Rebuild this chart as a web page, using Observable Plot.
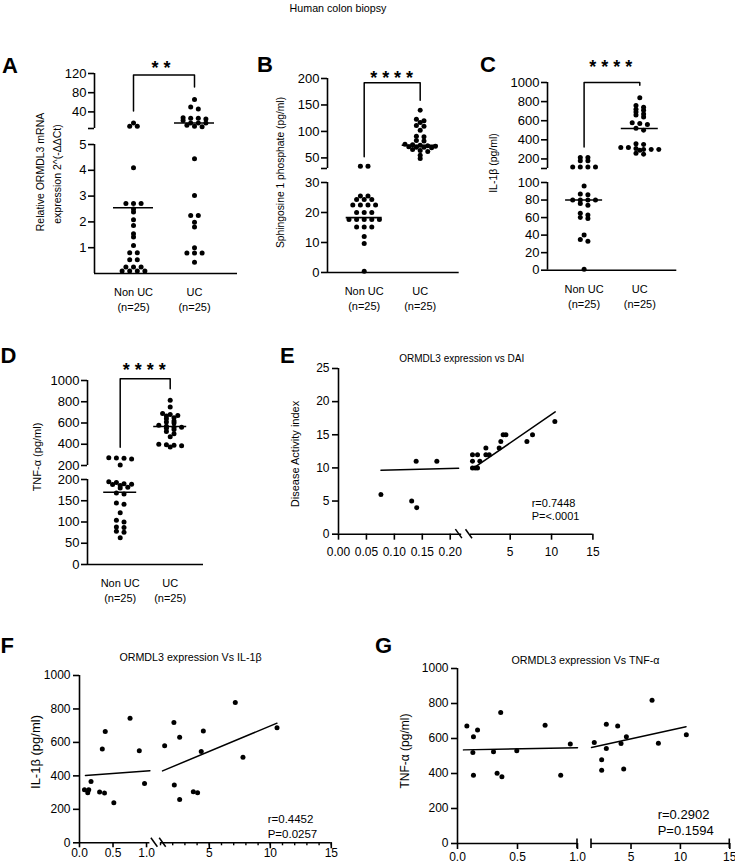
<!DOCTYPE html>
<html><head><meta charset="utf-8">
<script src="https://cdn.jsdelivr.net/npm/d3@7"></script>
<script src="https://cdn.jsdelivr.net/npm/@observablehq/plot@0.6"></script>
<style>
html,body{margin:0;padding:0;background:#fff;}
#fig{position:relative;width:735px;height:866px;overflow:hidden;background:#fff;font-family:"Liberation Sans",Arial,Helvetica,sans-serif;}
#fig svg{position:absolute;overflow:visible;}
</style></head><body><div id="fig"></div>
<script>
const FONT = '"Liberation Sans", Arial, Helvetica, sans-serif';

// ---------------- DATA ----------------
const groups = ["Non UC", "UC"];
const groupTickLabels = ["Non UC\n(n=25)", "UC\n(n=25)"];

// A: Relative ORMDL3 mRNA expression
const ormdlNonUC = [17, 10, 10, 4.1, 2.71, 2.71, 2.71, 2.5, 2.38, 2.08, 1.86, 1.54, 1.41, 1.09, 0.8, 0.8, 0.53, 0.53, 0.25, 0.25, 0.25, 0.1, 0.1, 0.1, 0.1];
const ormdlUC = [66, 50, 46, 28, 27, 27, 25, 22, 17, 17, 17, 12, 10, 9, 4.45, 3.02, 2.25, 2.25, 1.99, 1.8, 1.0, 0.79, 0.79, 0.79, 0.44];
const ormdlMeans = [2.55, 17];
const ormdlUpperDomain = [5.4, 120], ormdlLowerDomain = [0, 5];
const ormdlUpperTicks = [5.4, 40, 80, 120], ormdlLowerTicks = [1, 2, 3, 4, 5];
const ormdlBracket = [42, 117, 92];

// B: Sphingosine 1 phosphate (pg/ml)
const s1pNonUC = [34, 34, 25.5, 25.5, 24.3, 24.3, 24.3, 22.5, 22.5, 22.5, 22.5, 20, 20, 20, 17.7, 17.7, 17.7, 17.7, 17.7, 15.2, 15.2, 15.2, 12, 9.7, 0.4];
const s1pUC = [140, 123, 120, 117, 111, 110, 102, 91, 90, 83, 82, 76, 75, 74, 73, 72, 71, 70, 70, 69, 66, 64, 62, 55, 49];
const s1pMeans = [18.3, 74];
const s1pUpperDomain = [30, 200], s1pLowerDomain = [0, 30];
const s1pUpperTicks = [30, 50, 100, 150, 200], s1pLowerTicks = [0, 10, 20, 30];
const s1pBracket = [52, 192, 159];

// C: IL-1β (pg/ml)
const il1bNonUC = [215, 215, 180, 180, 116, 116, 116, 116, 96, 87, 86, 80, 80, 80, 80, 76, 74, 65, 63, 60, 59, 40, 35, 33, 1];
const il1bUC = [840, 760, 740, 720, 710, 690, 670, 660, 640, 580, 570, 560, 520, 500, 360, 350, 320, 320, 310, 300, 300, 300, 290, 260, 250];
const il1bMeans = [80, 518];
const il1bUpperDomain = [100, 1000], il1bLowerDomain = [0, 100];
const il1bUpperTicks = [100, 200, 400, 600, 800, 1000], il1bLowerTicks = [0, 20, 40, 60, 80, 100];
const il1bBracket = [326, 1000, 972];

// D: TNF-α (pg/ml)
const tnfNonUC = [272, 270, 268, 262, 204, 195, 193, 190, 189, 188, 186, 182, 180, 168, 166, 145, 142, 122, 104, 100, 88, 87, 78, 76, 63];
const tnfUC = [815, 750, 690, 680, 670, 665, 650, 640, 620, 610, 600, 580, 570, 560, 560, 550, 540, 520, 500, 470, 400, 395, 390, 385, 375];
const tnfMeans = [170, 567];
const tnfUpperDomain = [200, 1000], tnfLowerDomain = [0, 200];
const tnfUpperTicks = [200, 400, 600, 800, 1000], tnfLowerTicks = [0, 50, 100, 150, 200];
const tnfBracket = [372, 1016, 922];

// E: ORMDL3 expression vs DAI
const daiLowX = [0.076, 0.131, 0.139, 0.140, 0.176];
const daiLowY = [6, 5, 11, 4, 11];
const daiHighX = [0.44, 0.44, 0.44, 0.77, 1.05, 1.05, 1.33, 2.06, 2.06, 2.46, 3.67, 3.87, 4.15, 4.48, 7.02, 7.70, 10.40];
const daiHighY = [12, 11, 10, 10, 10, 12, 11, 13, 12, 12, 13, 14, 15, 15, 14, 15, 17];
const daiLowFit = [[0.076, 9.66], [0.215, 9.96]];
const daiHighFit = [[0.6, 10.0], [10.44, 18.46]];
const daiLowDomain = [0, 0.2205], daiHighDomain = [0.2, 15], daiYDomain = [0, 25];
const daiLowTicks = [0, 0.05, 0.10, 0.15, 0.20], daiHighTicks = [5, 10, 15], daiYTicks = [0, 5, 10, 15, 20, 25];

// F: ORMDL3 expression vs IL-1β
const fLowX = [0.074, 0.123, 0.138, 0.172, 0.300, 0.340, 0.374, 0.384, 0.512, 0.754, 0.892, 0.970];
const fLowY = [317, 299, 317, 367, 303, 560, 297, 665, 239, 745, 550, 355];
const fHighX = [1.34, 2.10, 2.13, 2.57, 2.57, 3.69, 4.04, 4.34, 4.51, 7.13, 7.76, 10.55];
const fHighY = [580, 719, 345, 631, 259, 305, 299, 546, 669, 839, 512, 687];
const fLowFit = [[0.089, 402], [1.05, 430]];
const fHighFit = [[1.17, 430], [10.55, 715]];
const fLowDomain = [0, 1.05], fHighDomain = [1, 15], fYDomain = [0, 1000];
const fLowTicks = [0, 0.5, 1.0], fHighTicks = [5, 10, 15], fHighMinorTicks = d3.range(1, 16), fYTicks = [0, 200, 400, 600, 800, 1000];

// G: ORMDL3 expression vs TNF-α
const gLowX = [0.078, 0.133, 0.128, 0.133, 0.167, 0.30, 0.33, 0.36, 0.37, 0.494, 0.73, 0.86, 0.94];
const gLowY = [672, 610, 520, 390, 648, 524, 402, 749, 381, 530, 676, 390, 568];
const gHighX = [1.28, 2.03, 2.03, 2.5, 2.5, 3.65, 3.99, 4.26, 4.53, 7.13, 7.77, 10.6];
const gHighY = [577, 478, 419, 682, 543, 672, 572, 425, 610, 819, 573, 621];
const gLowFit = [[0.05, 535], [1.0, 547]];
const gHighFit = [[1.0, 549], [10.57, 667]];
const gLowDomain = [0, 1], gHighDomain = [1, 15], gYDomain = [0, 1000];
const gLowTicks = [0, 0.5, 1.0], gHighTicks = [5, 10, 15], gYTicks = [0, 200, 400, 600, 800, 1000];

// ---------------- HELPERS ----------------
const fig = document.getElementById("fig");
const K = "#000";
const plain = d => String(d);

function makePlot({frame, x, y, marks, pad = [50, 30, 50, 70]}) {
  const [x0, x1, y0, y1] = frame;
  const [mt, mr, mb, ml] = pad;
  const svg = Plot.plot({
    width: x1 - x0 + ml + mr,
    height: y1 - y0 + mt + mb,
    marginTop: mt, marginRight: mr, marginBottom: mb, marginLeft: ml,
    x: {...x, axis: null},
    y: {...y, axis: null},
    style: {background: "transparent", overflow: "visible", fontFamily: FONT, color: K},
    marks
  });
  svg.style.position = "absolute";
  svg.style.left = (x0 - ml) + "px";
  svg.style.top = (y0 - mt) + "px";
  fig.appendChild(svg);
  return svg;
}

// Prism-like scatter: points whose pixel rows are close are spread sideways
function prism(py, tol, gap) {
  const order = d3.range(py.length).sort((a, b) => py[a] - py[b]);
  const off = new Array(py.length).fill(0);
  let row = [], start = null;
  const flush = () => row.forEach((i, k) => off[i] = (k - (row.length - 1) / 2) * gap);
  for (const i of order) {
    if (row.length && py[i] - start <= tol) row.push(i);
    else { flush(); row = [i]; start = py[i]; }
  }
  flush();
  return off;
}

function catPanel(cfg) {
  const {x0, x1, c0, c1, segs, values, means, bracket, stars, starDy, starX, meanHalf} = cfg;
  const unit = c1 - c0;
  const xDomain = [(x0 - c0) / unit, (x1 - c0) / unit];
  const pix = segs.map(s => d3.scaleLinear(s.domain, [s.y1, s.y0]));
  const segOf = v => segs.findIndex(s => v >= s.domain[0] && v <= s.domain[1]);
  const pts = [];
  values.forEach((vals, g) => {
    const py = vals.map(v => pix[segOf(v)](v));
    const off = prism(py, 2.6, 7.6);
    vals.forEach((v, i) => pts.push({g, v, x: g + off[i] / unit, s: segOf(v)}));
  });
  const meanRows = means.map((m, g) => ({g, v: m, s: segOf(m)}));
  segs.forEach((s, k) => {
    const marks = [
      Plot.ruleX([xDomain[0]], {stroke: K, strokeWidth: 1.6}),
      Plot.axisY({ticks: s.ticks, tickFormat: s.fmt, tickSize: 6, tickPadding: 2, fontSize: 13, strokeWidth: 1.6, label: null, anchor: "left"}),
      Plot.dot(pts.filter(d => d.s === k), {x: "x", y: "v", r: 2.5, fill: K, stroke: "none"}),
      Plot.ruleY(meanRows.filter(d => d.s === k), {y: "v", x1: d => d.g - meanHalf / unit, x2: d => d.g + meanHalf / unit, stroke: K, strokeWidth: 1.6})
    ];
    if (k === segs.length - 1) {
      marks.push(Plot.ruleY([s.domain[0]], {stroke: K, strokeWidth: 1.6}));
      marks.push(Plot.text(groupTickLabels, {x: (d, i) => i, frameAnchor: "bottom", lineAnchor: "top", dy: 12, lineHeight: 1.35, fontSize: 11}));
    }
    if (k === 0) {
      marks.push(Plot.line([[0, bracket[0]], [0, bracket[1]], [1, bracket[1]], [1, bracket[2]]], {stroke: K, strokeWidth: 1.5}));
      marks.push(Plot.text([stars], {x: starX, y: bracket[1], dy: starDy, fontSize: 18, fontWeight: "bold"}));
    }
    makePlot({frame: [x0, x1, s.y0, s.y1], x: {domain: xDomain}, y: {domain: s.domain}, marks});
  });
}

function slashMark(side, shift) {
  return (index, scales, values, dim) => {
    const g = d3.create("svg:g");
    const xb = side === "right" ? dim.width - dim.marginRight : dim.marginLeft;
    const yb = dim.height - dim.marginBottom;
    const cx = xb + shift;
    g.append("line").attr("x1", cx - 3).attr("y1", yb - 4.5).attr("x2", cx + 3.5).attr("y2", yb + 4.5)
      .attr("stroke", K).attr("stroke-width", 1.5);
    return g.node();
  };
}
function barMark(side) {
  return (index, scales, values, dim) => {
    const g = d3.create("svg:g");
    const xb = side === "right" ? dim.width - dim.marginRight : dim.marginLeft;
    const yb = dim.height - dim.marginBottom;
    g.append("line").attr("x1", xb).attr("y1", yb - 4.5).attr("x2", xb).attr("y2", yb + 5)
      .attr("stroke", K).attr("stroke-width", 1.6);
    return g.node();
  };
}

function scatterPanel(cfg) {
  const {y0, y1, yDomain, yTicks, L, R} = cfg;
  [L, R].forEach((S, k) => {
    const marks = [
      Plot.ruleY([yDomain[0]], {stroke: K, strokeWidth: 1.6}),
      Plot.dot(S.xs, {x: d => d, y: (d, i) => S.ys[i], r: 2.5, fill: K, stroke: "none"}),
      Plot.line(S.fit, {stroke: K, strokeWidth: 1.5})
    ];
    if (S.minor) marks.push(Plot.axisX({ticks: S.minor, tickFormat: () => "", tickSize: 3, strokeWidth: 1.4, label: null}));
    marks.push(Plot.axisX({ticks: S.ticks, tickFormat: S.fmt, tickSize: S.tickSize, tickPadding: S.tickPadding, fontSize: 12, strokeWidth: 1.6, label: null}));
    if (k === 0) {
      marks.push(Plot.ruleX([S.domain[0]], {stroke: K, strokeWidth: 1.6}));
      marks.push(Plot.axisY({ticks: yTicks, tickFormat: plain, tickSize: 6, tickPadding: 3, fontSize: 12, strokeWidth: 1.6, label: null, anchor: "left"}));
    }
    (S.extra || []).forEach(m => marks.push(m));
    makePlot({frame: [S.x0, S.x1, y0, y1], x: {domain: S.domain}, y: {domain: yDomain}, marks});
  });
}

// ---------------- PANELS A–D ----------------
const noLow = lo => d => d === lo ? "" : String(d);
catPanel({x0: 94, x1: 237, c0: 133, c1: 194, values: [ormdlNonUC, ormdlUC], means: ormdlMeans, meanHalf: 20,
  bracket: ormdlBracket, stars: "* *", starDy: -7, starX: 0.45,
  segs: [
    {domain: ormdlUpperDomain, y0: 73.3, y1: 128.3, ticks: ormdlUpperTicks, fmt: noLow(ormdlUpperDomain[0])},
    {domain: ormdlLowerDomain, y0: 144, y1: 273, ticks: ormdlLowerTicks, fmt: plain}
  ]});
catPanel({x0: 327.3, x1: 459, c0: 364, c1: 420, values: [s1pNonUC, s1pUC], means: s1pMeans, meanHalf: 18,
  bracket: s1pBracket, stars: "* * * *", starDy: -4.2, starX: 0.49,
  segs: [
    {domain: s1pUpperDomain, y0: 78.3, y1: 168.3, ticks: s1pUpperTicks, fmt: noLow(s1pUpperDomain[0])},
    {domain: s1pLowerDomain, y0: 182.3, y1: 272.3, ticks: s1pLowerTicks, fmt: plain}
  ]});
catPanel({x0: 546.7, x1: 676, c0: 583.3, c1: 639, values: [il1bNonUC, il1bUC], means: il1bMeans, meanHalf: 18.5,
  bracket: il1bBracket, stars: "* * * *", starDy: -15.6, starX: 0.48,
  segs: [
    {domain: il1bUpperDomain, y0: 82.3, y1: 168.3, ticks: il1bUpperTicks, fmt: noLow(il1bUpperDomain[0])},
    {domain: il1bLowerDomain, y0: 182.3, y1: 270, ticks: il1bLowerTicks, fmt: plain}
  ]});
catPanel({x0: 87.3, x1: 203.3, c0: 120, c1: 170, values: [tnfNonUC, tnfUC], means: tnfMeans, meanHalf: 16.5,
  bracket: tnfBracket, stars: "* * * *", starDy: -8.5, starX: 0.48,
  segs: [
    {domain: tnfUpperDomain, y0: 380, y1: 465, ticks: tnfUpperTicks, fmt: plain},
    {domain: tnfLowerDomain, y0: 479, y1: 564, ticks: tnfLowerTicks, fmt: plain}
  ]});

// ---------------- PANELS E–G ----------------
scatterPanel({y0: 368.3, y1: 534, yDomain: daiYDomain, yTicks: daiYTicks,
  L: {x0: 338.3, x1: 461.5, domain: daiLowDomain, ticks: daiLowTicks, fmt: d3.format(".2f"), tickSize: 6, tickPadding: 7,
      xs: daiLowX, ys: daiLowY, fit: daiLowFit, extra: [slashMark("right", -2.8)]},
  R: {x0: 469.6, x1: 592, domain: daiHighDomain, ticks: daiHighTicks, fmt: plain, tickSize: 6, tickPadding: 7,
      xs: daiHighX, ys: daiHighY, fit: daiHighFit, extra: [slashMark("left", -1.5)]}
});
scatterPanel({y0: 675, y1: 842.3, yDomain: fYDomain, yTicks: fYTicks,
  L: {x0: 79.3, x1: 149.7, domain: fLowDomain, ticks: fLowTicks, fmt: d3.format(".1f"), tickSize: 5, tickPadding: 1,
      xs: fLowX, ys: fLowY, fit: fLowFit, extra: [slashMark("right", 4.5)]},
  R: {x0: 159.5, x1: 330.3, domain: fHighDomain, ticks: fHighTicks, minor: fHighMinorTicks, fmt: plain, tickSize: 6, tickPadding: 0,
      xs: fHighX, ys: fHighY, fit: fHighFit, extra: [slashMark("left", 2.2)]}
});
scatterPanel({y0: 667.7, y1: 842.7, yDomain: gYDomain, yTicks: gYTicks,
  L: {x0: 456.7, x1: 576.7, domain: gLowDomain, ticks: gLowTicks, fmt: d3.format(".1f"), tickSize: 6, tickPadding: 3,
      xs: gLowX, ys: gLowY, fit: gLowFit, extra: [barMark("right")]},
  R: {x0: 590.7, x1: 729, domain: gHighDomain, ticks: gHighTicks, fmt: plain, tickSize: 6, tickPadding: 3,
      xs: gHighX, ys: gHighY, fit: gHighFit, extra: [barMark("left"), barMark("right")]}
});

// ---------------- TEXT ----------------
const ov = d3.select(fig).append("svg").attr("width", 735).attr("height", 866)
  .style("left", "0px").style("top", "0px").attr("font-family", FONT).style("pointer-events", "none");
function T(txt, x, y, o = {}) {
  const t = ov.append("text").attr("x", x).attr("y", y).attr("font-size", o.size || 11)
    .attr("text-anchor", o.anchor || "middle").attr("dominant-baseline", o.base || "central")
    .attr("font-weight", o.weight || "normal").attr("fill", K).text(txt);
  if (o.rot) t.attr("transform", `rotate(-90 ${x} ${y})`);
}
T("Human colon biopsy", 338, 7.5, {size: 10.7});
[["A", 2, 73.3], ["B", 257, 71.7], ["C", 480, 71.7], ["D", 0.5, 362.7], ["E", 280, 362.7], ["F", 0.5, 653.3], ["G", 375, 653.3]]
  .forEach(([s, x, y]) => T(s, x, y, {size: 22, weight: "bold", anchor: "start", base: "alphabetic"}));
T("Relative ORMDL3 mRNA", 40, 172, {rot: true, size: 10.5});
T("expression 2^(-ΔΔCt)", 56.7, 174, {rot: true, size: 10.5});
T("Sphingosine 1 phosphate (pg/ml)", 280, 172.5, {rot: true, size: 10.3});
T("IL-1β (pg/ml)", 493.3, 163, {rot: true, size: 10.5});
T("TNF-α (pg/ml)", 36.7, 457, {rot: true, size: 11});
T("Disease Activity index", 295, 454, {rot: true, size: 11});
T("IL-1β (pg/ml)", 35, 752, {rot: true, size: 13});
T("TNF-α  (pg/ml)", 405, 751, {rot: true, size: 12});
T("ORMDL3 expression vs DAI", 461.7, 358.3, {size: 10});
T("ORMDL3 expression Vs IL-1β", 190.5, 657.3, {size: 10.7});
T("ORMDL3 expression Vs TNF-α", 585.5, 660, {size: 10.7});
T("r=0.7448", 531.7, 503.3, {size: 11, anchor: "start"});
T("P=<.0001", 531.7, 516, {size: 11, anchor: "start"});
T("r=0.4452", 267.7, 819.3, {size: 11.5, anchor: "start"});
T("P=0.0257", 267.7, 834.3, {size: 11.5, anchor: "start"});
T("r=0.2902", 657.7, 814.3, {size: 13, anchor: "start"});
T("P=0.1594", 657.7, 830, {size: 13, anchor: "start"});
</script></body></html>
